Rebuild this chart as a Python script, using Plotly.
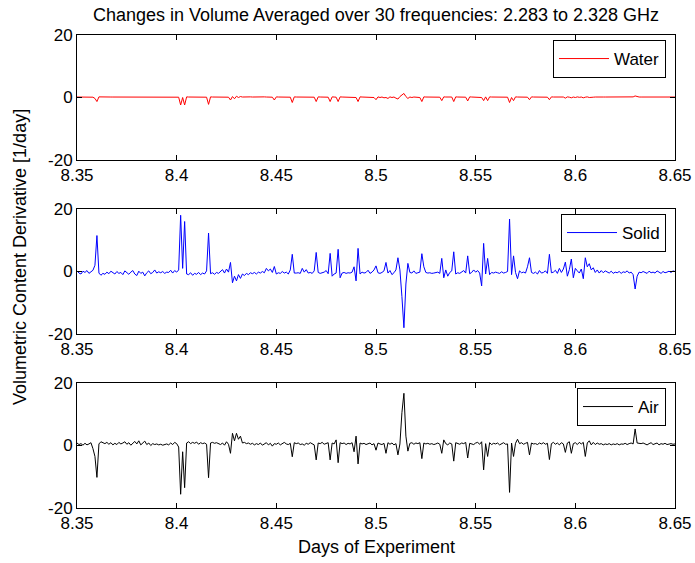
import plotly.graph_objects as go

# sample times (days of experiment), uniform 0.001-day sampling
days = [round(8.35 + 0.001 * i, 3) for i in range(301)]

water = [
    0.15, 0.15, 0.15, 0.15, 0.15, 0.15, 0.15, 0.15, 0.1, -0.3,
    -1.3, 0.2, 0.15, 0.15, 0.15, 0.15, 0.15, 0.15, 0.15, 0.15,
    0.15, 0.15, 0.2, 0.15, 0.15, 0.2, 0.15, 0.2, 0.15, 0.15,
    0.2, 0.15, 0.15, 0.2, 0.15, 0.15, 0.15, 0.2, 0.15, 0.15,
    0.15, 0.15, 0.15, 0.15, 0.15, 0.15, 0.15, 0.15, 0.15, 0.15,
    0.15, 0.1, -2.4, 0.0, -2.4, 0.2, 0.15, 0.15, 0.15, 0.15,
    0.15, 0.15, 0.15, 0.15, 0.15, 0.1, -2.2, 0.2, 0.15, 0.15,
    0.15, 0.15, 0.15, 0.15, 0.15, 0.15, 0.1, -0.8, 0.3, -0.4,
    0.4, 0.0, 0.3, 0.15, 0.2, 0.25, 0.15, 0.2, 0.15, 0.2,
    0.15, 0.2, 0.15, 0.15, 0.2, 0.15, 0.1, 0.15, 0.1, -0.8,
    0.2, 0.15, 0.15, 0.15, 0.15, 0.15, 0.15, 0.1, -1.6, 0.2,
    0.15, 0.15, 0.15, 0.15, 0.15, 0.15, 0.15, 0.15, 0.15, 0.1,
    -1.3, 0.2, 0.15, 0.15, 0.15, 0.15, 0.1, -1.3, 0.2, 0.15,
    0.1, -1.3, 0.2, 0.15, 0.15, 0.15, 0.15, 0.15, 0.15, 0.1,
    0.0, -1.3, 0.2, 0.15, 0.15, 0.15, 0.15, 0.15, 0.15, 0.0,
    -0.7, 0.2, 0.0, 0.15, -0.1, 0.0, -0.3, 0.2, 0.0, 0.15,
    -0.2, -0.5, 0.3, 0.8, 1.3, 0.3, -0.3, 0.15, 0.0, 0.15,
    0.15, 0.1, 0.0, -1.3, 0.2, 0.15, 0.15, 0.15, 0.15, 0.15,
    0.15, 0.15, 0.1, -1.0, 0.2, 0.15, 0.1, 0.15, 0.15, -1.3,
    0.2, 0.15, 0.15, 0.15, 0.15, 0.1, -1.1, 0.2, 0.15, 0.15,
    0.15, 0.15, 0.15, 0.0, -1.0, 0.2, -1.0, 0.2, 0.15, 0.15,
    0.15, 0.15, 0.15, 0.15, 0.15, 0.15, 0.1, -1.6, 0.0, -1.0,
    0.2, 0.15, 0.15, 0.15, 0.15, 0.15, 0.1, -0.7, 0.2, 0.15,
    0.15, 0.15, 0.15, 0.15, 0.15, 0.15, 0.1, -0.7, 0.2, 0.15,
    0.15, 0.1, 0.2, 0.0, 0.15, -0.2, 0.2, 0.1, -0.1, 0.15,
    0.0, 0.2, 0.05, 0.15, -0.1, 0.1, 0.2, 0.0, 0.15, 0.1,
    0.15, 0.1, 0.15, 0.15, 0.15, 0.15, 0.15, 0.15, 0.15, 0.15,
    0.15, 0.15, 0.15, 0.15, 0.15, 0.15, 0.15, 0.15, 0.15, 0.2,
    0.5, 0.2, 0.15, 0.15, 0.15, 0.15, 0.15, 0.15, 0.15, 0.15,
    0.15, 0.15, 0.15, 0.15, 0.15, 0.15, 0.15, 0.15, 0.15, 0.15,
    0.15,
]

solid = [
    0.2, -0.5, -0.8, 0.1, -0.3, 0.3, -0.6, 0.0, 0.4, 2.0,
    11.5, -0.5, -1.2, -0.6, -0.9, -0.2, -0.7, 0.1, -0.4, -0.8,
    0.0, -0.6, -0.3, -1.0, 0.2, -0.5, -0.9, -0.2, 0.3, -0.8,
    -1.3, 0.1, -0.6, -0.2, -1.4, -0.4, 0.2, -0.7, -0.3, 0.5,
    -0.5, -0.1, -0.4, 0.0, -0.6, -0.2, -0.3, 0.4, -0.5, 0.3,
    -0.2, 0.5, 18.0, 1.0, 16.0, -0.8, -1.0, -0.4, -1.2, -0.6,
    -0.9, -0.3, -1.0, -0.5, -0.8, 0.2, 12.3, -0.7, -0.4, -0.9,
    -0.3, -0.6, -0.1, 0.6, -0.5, 0.8, -0.2, 2.9, -3.6, -1.5,
    -3.0, -1.0, -2.2, -0.8, -1.3, -0.6, -1.0, -0.4, -0.7, -0.3,
    -0.8, -0.2, -0.5, 0.0, -0.4, 1.0, 0.2, 0.8, -0.3, 1.6,
    -0.8, -0.4, -0.6, 0.0, -0.5, -0.2, -0.8, 0.5, 5.5, -0.5,
    -0.5, -0.4, -0.6, 1.0, -0.2, 0.6, -0.5, -0.3, -0.6, 0.2,
    6.1, -0.3, -0.6, -0.4, -0.2, 0.3, -0.7, 5.8, -1.5, -0.8,
    -0.5, 7.1, -2.0, -0.5, -0.3, -0.6, -0.4, -0.5, -0.2, 1.5,
    -3.0, 7.4, -0.8, -0.2, -0.5, -0.3, 0.4, -0.6, -0.2, 0.5,
    1.8, -0.4, -0.6, -0.3, 0.2, 2.9, -0.5, 0.3, -1.0, -0.4,
    0.5, 4.4, 0.5, -8.0, -18.0, -4.0, 2.6, -0.3, -0.5, 0.2,
    -0.6, -0.4, -0.2, 5.7, 1.5, -0.3, -0.5, -0.4, -0.6, -0.5,
    -0.3, -0.2, -0.6, 4.2, -2.0, 0.5, -1.5, -0.3, 0.2, 6.3,
    -0.8, -0.4, -0.6, -0.2, 0.3, -0.5, 5.0, -0.7, -0.3, 0.5,
    -0.2, 0.3, -0.5, -4.6, 9.0, -0.8, 4.2, -1.0, -0.3, -0.5,
    -0.2, -0.4, -0.6, -0.1, -0.5, -0.3, 0.0, 16.8, -1.0, 5.0,
    -0.3, -2.3, 0.2, -0.4, -0.2, -0.5, 1.5, 4.4, -0.3, -0.6,
    -0.2, -0.8, 0.3, -0.5, -0.3, 0.2, -0.6, 5.5, -0.4, -0.2,
    0.4, -0.6, 1.0, -0.3, 0.8, 3.0, -1.5, 0.6, 4.0, -2.0,
    1.0, 0.2, -0.5, 0.8, -2.3, 4.4, 1.5, 2.5, 0.5, 1.2,
    -0.3, 0.5, -0.5, 0.3, -0.4, 0.2, -0.2, -0.5, 0.1, -0.6,
    -0.2, -0.4, 0.0, -0.6, -0.1, -0.3, 0.2, -0.5, -0.2, -1.0,
    -5.6, -1.5, -0.2, -0.4, 0.0, -0.3, -0.6, 0.1, -0.4, -0.2,
    -0.5, 0.2, -0.3, -0.6, 0.0, -0.4, -0.2, 0.1, -0.3, 0.2,
    0.0,
]

air = [
    0.8, 0.3, 0.6, 0.1, 0.7, 0.2, 0.5, 0.9, -1.0, -3.5,
    -10.2, 0.5, 1.2, 0.8, 0.6, 1.0, 0.4, 0.9, 0.2, 0.7,
    0.3, 1.0, 0.5, 0.8, 1.2, 0.4, 0.9, 0.1, 0.6, 1.3,
    0.5, 1.5, 0.2, 0.9, 1.4, 0.3, 0.8, 0.0, 0.6, 0.3,
    0.5, 0.2, 0.4, 0.1, 0.3, 0.5, 0.2, 0.8, 0.3, 1.0,
    0.6, -0.5, -15.6, -2.0, -13.5, 0.8, 1.2, 0.6, 1.0, 0.7,
    1.1, 0.4, 0.9, 0.6, 0.8, 0.4, -10.3, 0.8, 1.0, 0.7,
    0.9, 0.6, 0.3, 0.8, 0.1, 1.2, 0.4, -2.5, 3.9, 1.5,
    3.9, 2.0, 3.0, 0.8, 1.0, 0.6, 0.8, 0.4, 0.7, 0.2,
    0.6, 0.3, 0.8, 0.1, 0.5, 0.9, 0.2, 0.7, -0.2, 0.6,
    0.4, 0.8, 0.2, 0.6, 1.0, 0.5, 0.3, 0.7, -3.6, 0.9,
    0.6, 0.8, 0.3, 0.5, 0.1, 0.7, 0.4, 0.9, 0.5, 0.2,
    -4.6, 0.8, 0.6, 1.0, 0.4, 0.7, 0.9, -4.6, 0.8, 0.5,
    1.8, -5.5, 0.9, 0.6, 0.8, 0.3, 0.7, 0.5, 0.9, -2.0,
    3.0, -5.9, 0.8, 0.5, 0.7, 0.3, 0.6, 0.8, 0.2, 0.6,
    -1.5, 0.8, 0.5, 0.3, 0.7, -2.5, 0.9, 0.4, 0.8, 0.2,
    0.6, -3.0, 0.5, 10.5, 16.7, 3.0, -1.8, 0.7, 0.9, 0.4,
    0.8, 0.6, 0.9, -4.2, 0.8, 0.5, 0.7, 0.4, 0.6, 0.3,
    0.5, 0.8, 0.4, -2.5, 1.8, 0.6, 0.2, 0.8, 0.5, -5.0,
    0.9, 0.7, 0.4, 0.8, 0.6, 1.0, -4.0, 0.7, 0.5, 0.3,
    0.8, 1.0, 0.4, 1.2, -7.8, 0.6, -3.5, 0.9, 0.3, 0.7,
    0.5, 0.8, 0.2, 0.6, 0.9, 0.4, 0.5, -15.0, 0.8, -3.5,
    0.7, 2.0, 0.6, 0.9, 0.4, 0.7, 1.0, -3.0, 0.8, 0.5,
    0.6, 0.3, 0.8, 0.5, 0.9, 0.4, 0.7, -4.5, 0.6, 1.0,
    0.4, 0.8, 0.2, 0.9, 0.5, -2.2, 0.8, 1.2, -2.5, 0.6,
    0.9, 0.3, 1.0, 0.5, 1.0, -3.5, 0.8, 1.5, 0.2, 1.0,
    0.3, 0.8, 0.4, 0.6, 0.2, 0.5, 0.3, 0.6, 0.2, 0.5,
    0.3, 0.6, 0.2, 0.5, 0.4, 0.7, 0.3, 0.6, 0.8, 0.5,
    5.3, 0.8, 0.7, 0.6, 0.8, 0.5, 0.2, 0.6, 0.9, 0.3,
    0.5, 0.8, 0.2, 0.6, 0.4, 0.7, 0.3, 0.5, 0.6, 0.4,
    0.5,
]

x_tick_vals = [8.35, 8.4, 8.45, 8.5, 8.55, 8.6, 8.65]
x_tick_text = ["8.35", "8.4", "8.45", "8.5", "8.55", "8.6", "8.65"]
y_tick_vals = [-20, 0, 20]
y_tick_text = ["-20", "0", "20"]

series_names = ["Water", "Solid", "Air"]
series_colors = ["#ff0000", "#0000ff", "#000000"]
series_values = [water, solid, air]

FONT = "Liberation Sans, Arial, Helvetica, sans-serif"
FS = 17
FS_LABEL = 18

fig = go.Figure()

# pixel layout -> paper domains
W, H = 695, 563
ML, MR, MT, MB = 77, 20, 35, 55
ph = H - MT - MB
pw = W - ML - MR
panels_px = [(35, 160), (209, 334), (383, 508)]
legend_tops_px = [40, 214, 388]


def py(pix):
    return (H - MB - pix) / ph


for k in range(3):
    sfx = "" if k == 0 else str(k + 1)
    fig.add_trace(go.Scatter(
        x=days, y=series_values[k], mode="lines", name=series_names[k],
        line=dict(color=series_colors[k], width=1),
        xaxis="x" + sfx, yaxis="y" + sfx,
        legend="legend" + sfx,
    ))
    top, bot = panels_px[k]
    axis_common = dict(
        showline=True, linecolor="black", linewidth=1, mirror="ticks",
        ticks="inside", ticklen=5, tickcolor="black", tickwidth=1,
        showgrid=False, zeroline=False, automargin=False,
        tickfont=dict(family=FONT, size=FS, color="black"),
    )
    fig.layout["xaxis" + sfx] = dict(
        axis_common, domain=[0, 1], range=[8.35, 8.65],
        tickvals=x_tick_vals, ticktext=x_tick_text,
        anchor="y" + sfx,
    )
    fig.layout["yaxis" + sfx] = dict(
        axis_common, domain=[py(bot), py(top)], range=[-20, 20],
        tickvals=y_tick_vals, ticktext=y_tick_text,
        anchor="x" + sfx,
    )
    fig.layout["legend" + sfx] = dict(
        x=(666 - ML) / pw, xanchor="right",
        y=py(legend_tops_px[k]), yanchor="top",
        bordercolor="black", borderwidth=1, bgcolor="white",
        font=dict(family=FONT, size=FS, color="black"),
        itemwidth=50,
    )

fig.update_layout(
    width=W, height=H,
    margin=dict(l=ML, r=MR, t=MT, b=MB, pad=0, autoexpand=False),
    paper_bgcolor="white", plot_bgcolor="white",
    showlegend=True,
    font=dict(family=FONT, size=FS, color="black"),
    title=dict(
        text="Changes in Volume Averaged over 30 frequencies: 2.283 to 2.328 GHz",
        x=0.5, xref="paper", y=1 - 15 / H, yref="container",
        xanchor="center", yanchor="middle",
        font=dict(family=FONT, size=FS_LABEL, color="black"),
    ),
    annotations=[
        dict(text="Days of Experiment", xref="paper", yref="paper",
             x=0.5, y=py(547), xanchor="center", yanchor="middle",
             showarrow=False, font=dict(family=FONT, size=FS_LABEL, color="black")),
        dict(text="Volumetric Content Derivative [1/day]", xref="paper", yref="paper",
             x=(20 - ML) / pw, y=py(257), xanchor="center", yanchor="middle",
             textangle=-90, showarrow=False,
             font=dict(family=FONT, size=FS_LABEL, color="black")),
    ],
)

fig.write_html("out.html")
